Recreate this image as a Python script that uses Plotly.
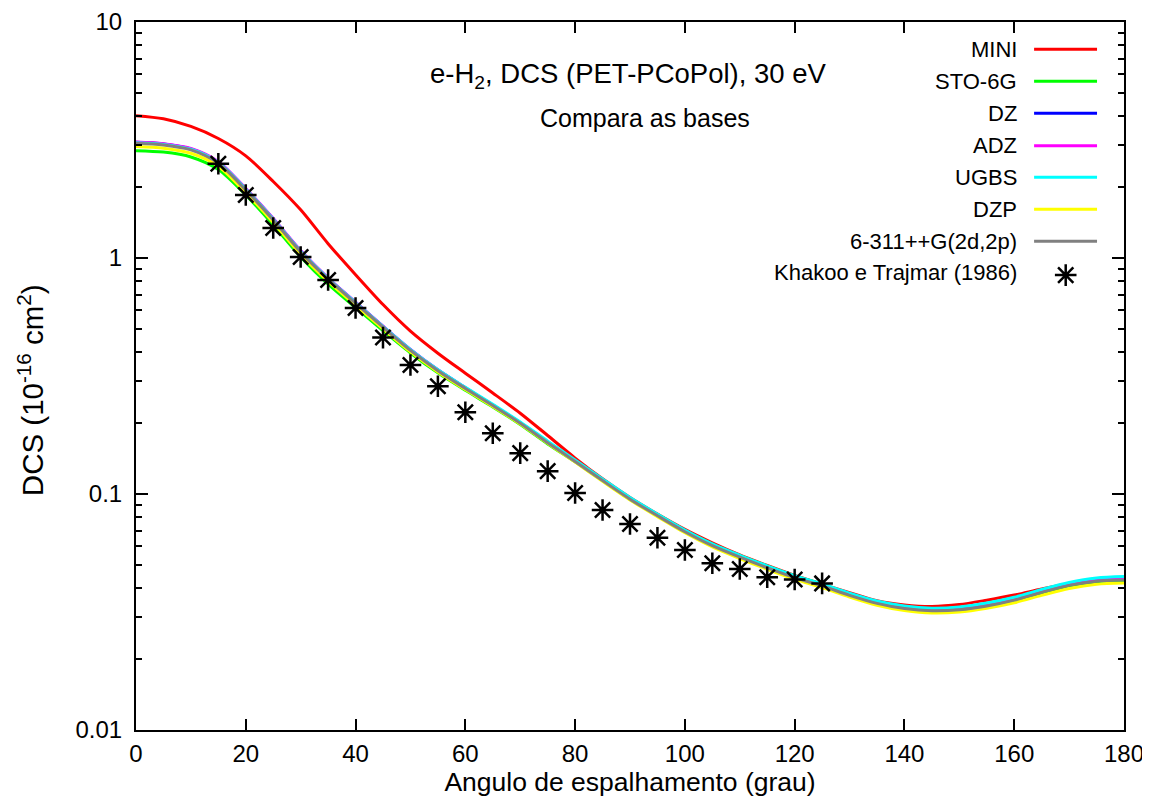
import plotly.graph_objects as go

# ---------------- data ----------------
angles = [0, 5, 10, 15, 20, 25, 30, 35, 40, 45, 50, 55, 60, 65, 70, 75, 80, 85, 90,
          95, 100, 105, 110, 115, 120, 125, 130, 135, 140, 145, 150, 155, 160, 165, 170, 175, 180]

mini = [4.01, 3.89, 3.61, 3.21, 2.71, 2.11, 1.60, 1.15, 0.85, 0.635, 0.490, 0.395, 0.325, 0.268,
        0.220, 0.177, 0.142, 0.116, 0.0966, 0.0822, 0.0708, 0.0621, 0.0552, 0.0498, 0.0452,
        0.0415, 0.0382, 0.0353, 0.0339, 0.0334, 0.0340, 0.0355, 0.0373, 0.0396, 0.0417, 0.0429, 0.0432]

sto6g = [2.85, 2.81, 2.68, 2.37, 1.85, 1.38, 1.01, 0.775, 0.617, 0.492, 0.396, 0.326, 0.275, 0.234,
         0.197, 0.163, 0.137, 0.114, 0.0951, 0.0818, 0.0700, 0.0614, 0.0548, 0.0495, 0.0450,
         0.0414, 0.0377, 0.0346, 0.0327, 0.0319, 0.0322, 0.0334, 0.0353, 0.0380, 0.0408, 0.0425, 0.0430]

dz = [3.09, 3.04, 2.90, 2.55, 1.96, 1.465, 1.07, 0.82, 0.648, 0.513, 0.409, 0.335, 0.282, 0.238,
      0.2005, 0.166, 0.138, 0.1145, 0.0955, 0.0813, 0.0696, 0.0608, 0.0543, 0.0490, 0.0445,
      0.0410, 0.0374, 0.0346, 0.0329, 0.0322, 0.0326, 0.0339, 0.0359, 0.0387, 0.0415, 0.0433, 0.0439]

adz = [3.10, 3.05, 2.91, 2.56, 1.97, 1.47, 1.075, 0.823, 0.650, 0.514, 0.410, 0.336, 0.282, 0.238,
       0.200, 0.1655, 0.1378, 0.1143, 0.0953, 0.0811, 0.0694, 0.0606, 0.0542, 0.0489, 0.0444,
       0.0409, 0.0373, 0.0345, 0.0328, 0.0321, 0.0325, 0.0338, 0.0358, 0.0386, 0.0414, 0.0432, 0.0438]

ugbs = [3.08, 3.03, 2.89, 2.54, 1.955, 1.46, 1.068, 0.818, 0.647, 0.512, 0.409, 0.336, 0.283, 0.240,
        0.202, 0.1675, 0.1395, 0.1158, 0.0966, 0.0822, 0.0704, 0.0615, 0.0550, 0.0496, 0.0451,
        0.0416, 0.0380, 0.0352, 0.0335, 0.0328, 0.0332, 0.0345, 0.0365, 0.0394, 0.0422, 0.0441, 0.0447]

dzp = [2.97, 2.92, 2.78, 2.45, 1.89, 1.415, 1.036, 0.796, 0.631, 0.501, 0.400, 0.329, 0.277, 0.235,
       0.198, 0.164, 0.1365, 0.1132, 0.0944, 0.0802, 0.0685, 0.0597, 0.0533, 0.0480, 0.0436,
       0.0401, 0.0366, 0.0338, 0.0321, 0.0313, 0.0316, 0.0328, 0.0346, 0.0372, 0.0398, 0.0415, 0.0420]

g6311 = [3.06, 3.01, 2.87, 2.52, 1.94, 1.45, 1.06, 0.813, 0.643, 0.509, 0.406, 0.333, 0.280, 0.237,
         0.1995, 0.165, 0.1374, 0.114, 0.0951, 0.0809, 0.0692, 0.0604, 0.0540, 0.0487, 0.0442,
         0.0408, 0.0372, 0.0344, 0.0327, 0.0320, 0.0323, 0.0335, 0.0355, 0.0383, 0.0410, 0.0427, 0.0432]

exp_angles = [15, 20, 25, 30, 35, 40, 45, 50, 55, 60, 65, 70, 75, 80, 85, 90, 95, 100,
              105, 110, 115, 120, 125]
exp_dcs = [2.51, 1.85, 1.34, 1.01, 0.807, 0.614, 0.460, 0.352, 0.286, 0.222, 0.181, 0.149, 0.125,
           0.101, 0.0855, 0.0746, 0.0653, 0.0579, 0.0509, 0.0481, 0.0444, 0.0434, 0.0418]

series_names = ["MINI", "STO-6G", "DZ", "ADZ", "UGBS", "DZP", "6-311++G(2d,2p)"]
series_values = [mini, sto6g, dz, adz, ugbs, dzp, g6311]
series_colors = ["#ff0000", "#00ff00", "#0000ff", "#ff00ff", "#00ffff", "#ffff00", "#808080"]
exp_name = "Khakoo e Trajmar (1986)"

y_tickvals = [0.01, 0.1, 1, 10]
y_ticktext = ["0.01", "0.1", "1", "10"]
x_tickvals = [0, 20, 40, 60, 80, 100, 120, 140, 160, 180]

FONT = "Liberation Sans, Arial, Helvetica, sans-serif"

fig = go.Figure()

for name, vals, col in zip(series_names, series_values, series_colors):
    fig.add_trace(go.Scatter(x=angles, y=vals, mode="lines", name=name,
                             line=dict(color=col, width=3, shape="spline", smoothing=0.8),
                             showlegend=False))

fig.add_trace(go.Scatter(x=exp_angles, y=exp_dcs, mode="markers", name=exp_name,
                         marker=dict(symbol="asterisk-open", size=18, color="black",
                                     line=dict(color="black", width=2.5)),
                         showlegend=False))

# ---------------- custom gnuplot-style key (overlay axes 0..1) ----------------
key_rows = [0.9614, 0.9162, 0.8710, 0.8253, 0.7806, 0.7354, 0.6903, 0.6455]
key_x0, key_x1, key_text_x, key_mark_x = 0.909, 0.9727, 0.8937, 0.941

for i, (name, col) in enumerate(zip(series_names, series_colors)):
    fig.add_trace(go.Scatter(x=[key_x0, key_x1], y=[key_rows[i], key_rows[i]], mode="lines",
                             line=dict(color=col, width=3), xaxis="x2", yaxis="y2",
                             showlegend=False, hoverinfo="skip"))
fig.add_trace(go.Scatter(x=[key_mark_x], y=[key_rows[7] - 0.003], mode="markers",
                         marker=dict(symbol="asterisk-open", size=18, color="black",
                                     line=dict(color="black", width=2.5)),
                         xaxis="x2", yaxis="y2", showlegend=False, hoverinfo="skip"))

annotations = []
for i, name in enumerate(series_names + [exp_name]):
    annotations.append(dict(x=key_text_x, y=key_rows[i], xref="paper", yref="paper",
                            text=name, showarrow=False, xanchor="right", yanchor="middle",
                            font=dict(family=FONT, size=22, color="black")))

annotations.append(dict(x=0.498, y=0.925, xref="paper", yref="paper",
                        text="e-H<sub>2</sub>, DCS (PET-PCoPol), 30 eV", showarrow=False,
                        xanchor="center", yanchor="middle",
                        font=dict(family=FONT, size=27.5, color="black")))
annotations.append(dict(x=0.515, y=0.864, xref="paper", yref="paper",
                        text="Compara as bases", showarrow=False,
                        xanchor="center", yanchor="middle",
                        font=dict(family=FONT, size=25, color="black")))
# y-axis label (rotated)
annotations.append(dict(x=-0.1073, y=0.480, xref="paper", yref="paper",
                        text="DCS (10<sup>-16</sup> cm<sup>2</sup>)", showarrow=False,
                        textangle=-90, xanchor="center", yanchor="middle",
                        font=dict(family=FONT, size=29.5, color="black")))

minor_vals = [m * d for d in (0.01, 0.1, 1) for m in range(2, 10)]

# The page body adds an 8 px offset; the figure is sized so the plot area
# lands at x 136..1124, y 22..730 in the 1150x798 window.
fig.update_layout(
    width=1142, height=790,
    margin=dict(l=128, r=26, t=14, b=68, autoexpand=False),
    paper_bgcolor="white", plot_bgcolor="white",
    font=dict(family=FONT, size=24, color="black"),
    showlegend=False,
    annotations=annotations,
    xaxis=dict(range=[0, 180], tickvals=x_tickvals, ticks="inside", ticklen=11, tickwidth=1.5,
               tickcolor="black", showline=True, linecolor="black", linewidth=2, mirror="ticks",
               showgrid=False, zeroline=False, ticklabelstandoff=1, automargin=False,
               ticklabeloverflow="allow",
               tickfont=dict(family=FONT, size=24),
               title=dict(text="Angulo de espalhamento (grau)", standoff=2,
                          font=dict(family=FONT, size=26.5))),
    yaxis=dict(type="log", range=[-2, 1], tickvals=y_tickvals, ticktext=y_ticktext,
               ticks="inside", ticklen=12, tickwidth=1.5, tickcolor="black",
               showline=True, linecolor="black", linewidth=2, mirror="ticks",
               showgrid=False, zeroline=False, ticklabelstandoff=7, automargin=False,
               ticklabeloverflow="allow",
               tickfont=dict(family=FONT, size=24),
               minor=dict(tickmode="array", tickvals=minor_vals, ticks="inside", ticklen=6,
                          tickwidth=1.5, tickcolor="black", showgrid=False)),
    xaxis2=dict(range=[0, 1], overlaying="x", visible=False, fixedrange=True),
    yaxis2=dict(range=[0, 1], overlaying="y", visible=False, fixedrange=True),
)

fig.write_html("out.html")
